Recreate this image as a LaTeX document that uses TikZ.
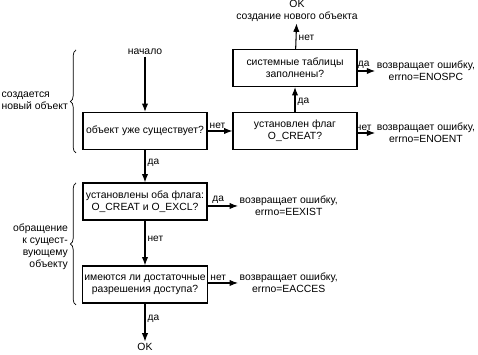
\documentclass[tikz,border=0pt]{standalone}
\usepackage{fontspec}
\setmainfont{Liberation Sans}
\usetikzlibrary{arrows.meta, decorations.pathreplacing}

\begin{document}
\begin{tikzpicture}[
    font=\fontsize{7.4}{8.6}\selectfont,
    box/.style={draw, line width=0.75pt, minimum width=3.1cm, minimum height=0.925cm, align=center, inner sep=1pt},
    txt/.style={align=center, inner sep=1pt},
    arr/.style={-{Latex[length=6pt,width=4.5pt]}, line width=0.75pt},
    lbl/.style={inner sep=1.5pt, font=\fontsize{7.2}{8}\selectfont},
    brc/.style={decorate, decoration={brace, amplitude=4pt}, line width=0.5pt}
]
    % Frame
    \useasboundingbox (0,0) rectangle (11.95,8.875);

    % Boxes
    \node[box] (full)   at (7.375, 7.175) {системные таблицы\\заполнены?};
    \node[box] (creat)  at (7.375, 5.6)   {установлен флаг\\O\_CREAT?};
    \node[box] (exists) at (3.625, 5.6)   {объект уже существует?};
    \node[box] (excl)   at (3.625, 3.8375) {установлены оба флага:\\O\_CREAT и O\_EXCL?};
    \node[box] (perm)   at (3.625, 1.7625) {имеются ли достаточные\\разрешения доступа?};

    % Start and ends
    \node[txt] (start) at (3.625, 7.575) {начало};
    \node[txt] (okTop) at (7.425, 8.6)   {OK\\создание нового объекта};
    \node[txt] (okBot) at (3.625, 0.2)   {OK};

    % Errors
    \node[txt, anchor=west] (eSpc)   at (9.38, 7.1)  {возвращает ошибку,\\errno=ENOSPC};
    \node[txt, anchor=west] (eNoent) at (9.38, 5.55) {возвращает ошибку,\\errno=ENOENT};
    \node[txt, anchor=west] (eExist) at (5.95, 3.725) {возвращает ошибку,\\errno=EEXIST};
    \node[txt, anchor=west] (eAcc)   at (5.95, 1.8)   {возвращает ошибку,\\errno=EACCES};

    % Main flow
    \draw[arr] (start) -- (exists);
    \draw[arr] (exists) -- node[lbl, above, pos=0.4] {нет} (creat);
    \draw[arr] (creat) -- node[lbl, right, pos=0.4] {да} (full);
    \draw[arr] (full) -- node[lbl, right, pos=0.45] {нет} (okTop);
    \draw[arr] (exists) -- node[lbl, right, pos=0.4] {да} (excl);
    \draw[arr] (excl) -- node[lbl, right, pos=0.4] {нет} (perm);
    \draw[arr] (perm) -- node[lbl, right, pos=0.4] {да} (okBot);

    % Error branches
    \draw[arr] (full.east |- eSpc.west) -- node[lbl, above, pos=0.35] {да} (eSpc.west);
    \draw[arr] (creat.east |- eNoent.west) -- node[lbl, above, pos=0.35] {нет} (eNoent.west);
    \draw[arr] (excl.east |- eExist.west) -- node[lbl, above, pos=0.35] {да} (eExist.west);
    \draw[arr] (perm.east |- eAcc.west) -- node[lbl, above, pos=0.35] {нет} (eAcc.west);

    % Braces
    \draw[brc] (1.9, 5.05) -- (1.9, 7.625);
    \node[txt, anchor=east, align=left] (newObj) at (1.74, 6.35) {создается\\новый объект};
    \draw[brc] (1.9, 1.25) -- (1.9, 4.3);
    \node[txt, anchor=east, align=right] (oldObj) at (1.74, 2.7) {обращение\\к сущест-\\вующему\\объекту};
\end{tikzpicture}
\end{document}
